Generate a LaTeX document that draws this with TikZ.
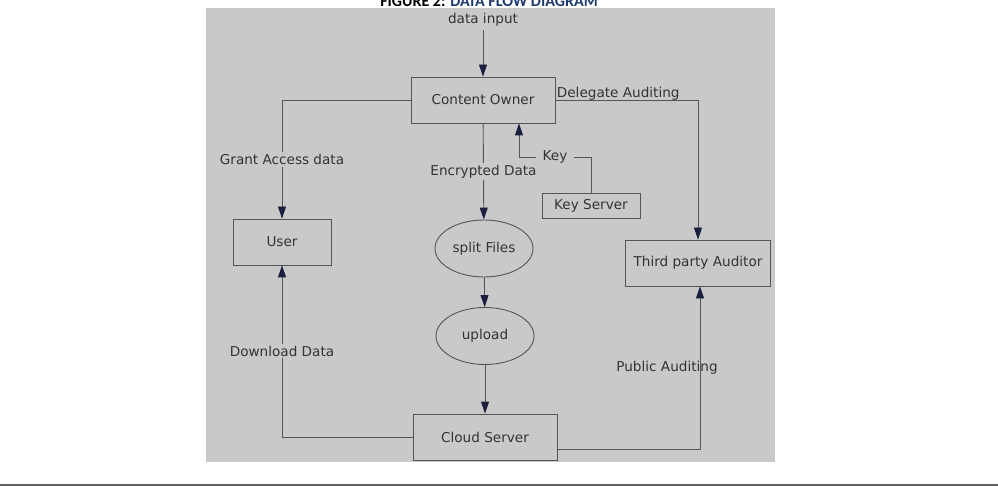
\documentclass[tikz,border=0pt]{standalone}
\usepackage{fontspec}
\setmainfont{DejaVu Sans}
\newfontfamily\titlefont{Carlito}
\usetikzlibrary{arrows.meta,shapes.geometric}
\definecolor{bggray}{HTML}{C9C9C9}
\definecolor{linegray}{HTML}{555555}
\definecolor{tipblue}{HTML}{1B1F3F}
\definecolor{txtgray}{HTML}{333333}
\definecolor{titleblue}{HTML}{1F3A6E}

\begin{document}
\begin{tikzpicture}[x=1pt,y=-1pt,
    every node/.style={font=\fontsize{13.6}{16}\selectfont,text=txtgray},
    box/.style={draw=linegray,line width=0.9pt,minimum width=144pt,minimum height=46pt},
    oval/.style={ellipse,draw=linegray,line width=0.9pt,minimum width=98pt,minimum height=57pt,inner sep=0pt},
    lbl/.style={fill=bggray,inner sep=2pt},
    flow/.style={draw=linegray,line width=0.9pt,-{Triangle[length=12pt,width=8pt,color=tipblue]}}]
    \useasboundingbox (0,0) rectangle (998,486);
    \clip (0,0) rectangle (998,486);
    \fill[bggray] (206,8) rectangle (775,462);
    \draw[gray!75!black,line width=2pt] (0,485) -- (998,485);
    \node[anchor=base,text=black,font=\titlefont\bfseries\fontsize{16}{18}\selectfont] (title) at (489,6.5)
        {FIGURE 2: \textcolor{titleblue}{DATA FLOW DIAGRAM}};

    \node (input) at (483,20) {data input};
    \node[box] (owner) at (483,100) {Content Owner};
    \node[box,minimum width=98pt] (user) at (282,242) {User};
    \node[box,minimum width=98pt,minimum height=25pt] (keysrv) at (591,205.5) {Key Server};
    \node[box,minimum width=145pt] (tpa) at (698,263) {Third party Auditor};
    \node[oval] (split) at (484,248.5) {split Files};
    \node[oval] (upload) at (485,336) {upload};
    \node[box] (cloud) at (485,437) {Cloud Server};
    \coordinate (keyturn) at (519,157);

    \draw[flow] (input) -- (owner);
    \draw[flow] (owner.west) -| node[lbl,pos=0.75] {Grant Access data} (user.north);
    \draw[flow] (owner) -- node[lbl] {Encrypted Data} (split);
    \draw[flow] (keysrv.north) |- node[lbl,pos=0.75,inner xsep=7pt] {Key} (keyturn) -- (keyturn |- owner.south);
    \draw[flow] (owner.east) -| node[pos=0,anchor=base west,inner sep=1pt,yshift=2pt] {Delegate Auditing} (tpa.north);
    \draw[flow] (split) -- (upload);
    \draw[flow] (upload) -- (cloud);
    \draw[flow] (cloud.west) -| node[lbl,pos=0.75] {Download Data} (user.south);
    \draw[flow] ([yshift=-12pt]cloud.east) -| node[pos=0.75,xshift=-33pt] {Public Auditing} ([xshift=2pt]tpa.south);
\end{tikzpicture}
\end{document}
